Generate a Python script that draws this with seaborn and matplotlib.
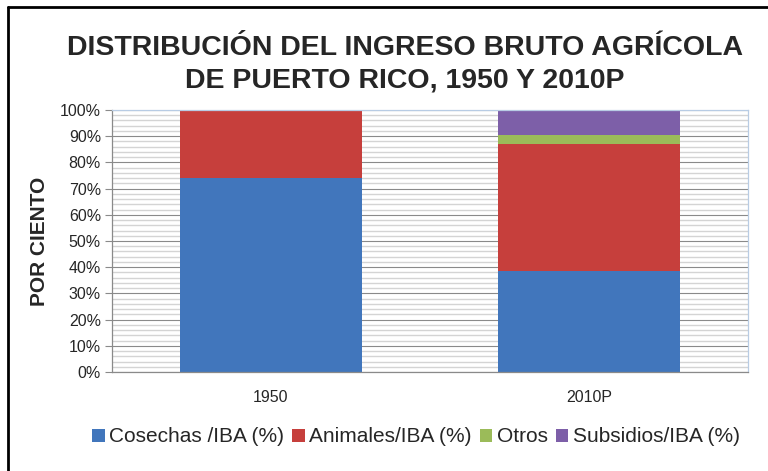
import numpy as np
import pandas as pd
import matplotlib.pyplot as plt
import seaborn as sns
from matplotlib.patches import Patch
from matplotlib.lines import Line2D
from matplotlib.ticker import MultipleLocator, PercentFormatter

# Data (percent of gross agricultural income)
years = ['1950', '2010P']
series_names = ['Cosechas /IBA (%)', 'Animales/IBA (%)', 'Otros', 'Subsidios/IBA (%)']
cosechas = [74.0, 38.5]
animales = [25.5, 48.5]
otros = [0.0, 3.5]
subsidios = [0.5, 9.5]

colors = ['#4176BC', '#C63F3C', '#9BBB59', '#7D5FA8']

sns.set_style("white")
plt.rcParams['font.family'] = ['Liberation Sans', 'DejaVu Sans']

layers = np.array([cosechas, animales, otros, subsidios])
stacked = np.cumsum(layers, axis=0)

fig = plt.figure(figsize=(7.68, 4.71), dpi=100)
ax = fig.add_axes([112 / 768, 1 - 372 / 471, 636 / 768, 262 / 471])

# grid first so bars sit on top
ax.set_axisbelow(True)
ax.yaxis.set_major_locator(MultipleLocator(10))
ax.yaxis.set_minor_locator(MultipleLocator(2))
ax.grid(which='minor', axis='y', color='#d4d4d4', linewidth=1.0)
ax.grid(which='major', axis='y', color='#8a8a8a', linewidth=0.8)

# stacked bars: draw cumulative totals from the top layer down
for i in range(len(series_names) - 1, -1, -1):
    df = pd.DataFrame({'year': years, 'value': stacked[i]})
    sns.barplot(data=df, x='year', y='value', order=years, color=colors[i],
                saturation=1, width=0.575, linewidth=0, ax=ax)

ax.set_ylim(0, 100)
ax.set_xlim(-0.5, 1.5)
ax.yaxis.set_major_formatter(PercentFormatter(decimals=0))
ax.set_xlabel('')
ax.set_ylabel('POR CIENTO', fontsize=15, fontweight='bold', labelpad=8)
ax.tick_params(axis='y', which='major', labelsize=11.5, length=5, color='#8a8a8a',
               direction='out', left=True, pad=3)
ax.tick_params(axis='y', which='minor', length=0)
ax.tick_params(axis='x', labelsize=11.5, length=0, pad=13)

for side in ['left', 'bottom']:
    ax.spines[side].set_color('#8a8a8a')
    ax.spines[side].set_linewidth(0.9)
for side in ['top', 'right']:
    ax.spines[side].set_color('#b8cce4')
    ax.spines[side].set_linewidth(0.9)

# title
fig.text(405 / 768, 1 - 48 / 471, 'DISTRIBUCIÓN DEL INGRESO BRUTO AGRÍCOLA',
         ha='center', va='center', fontsize=20.5, fontweight='bold')
fig.text(405 / 768, 1 - 81 / 471, 'DE PUERTO RICO, 1950 Y 2010P',
         ha='center', va='center', fontsize=20.5, fontweight='bold')

# legend
handles = [Patch(facecolor=c, edgecolor='none') for c in colors]
fig.legend(handles, series_names, loc='center', bbox_to_anchor=(416 / 768, 1 - 437 / 471),
           ncol=4, frameon=False, fontsize=15, handlelength=0.6, handleheight=0.6,
           handletextpad=0.2, columnspacing=0.4)

# outer frame (only top and left edges visible in the cropped original)
fig.add_artist(Line2D([8 / 768, 1.0], [1 - 7 / 471, 1 - 7 / 471], color='black',
                      linewidth=2, transform=fig.transFigure))
fig.add_artist(Line2D([8 / 768, 8 / 768], [0.0, 1 - 7 / 471], color='black',
                      linewidth=2, transform=fig.transFigure))

fig.savefig('out.png', dpi=100)
